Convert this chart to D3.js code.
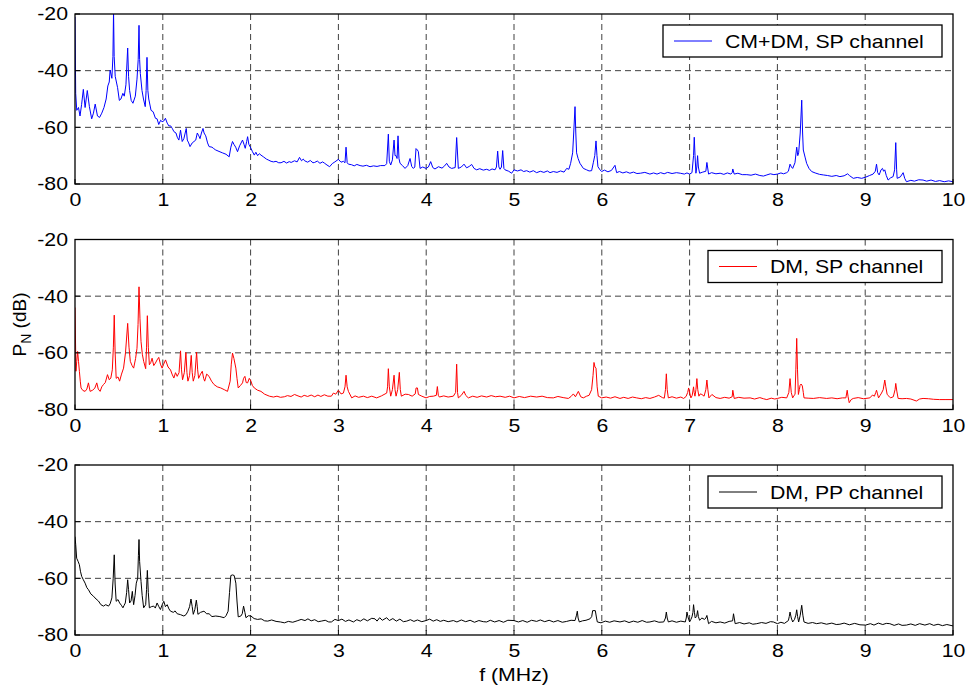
<!DOCTYPE html>
<html>
<head>
<meta charset="utf-8">
<script src="https://cdn.jsdelivr.net/npm/d3@7"></script>
<style>
  body { margin: 0; background: #fff; }
  text { font-family: Arial, "Liberation Sans", sans-serif; }
</style>
</head>
<body>
<script>

// ---- data: [f (MHz), P_N (dB)] ----
var cmdmSP = [[0,-21],[0.008,-48],[0.02,-54],[0.04,-53],[0.057,-56],[0.075,-52],[0.095,-46.6],[0.115,-53],[0.14,-47],[0.164,-52.7],[0.19,-57],[0.21,-55],[0.23,-51.8],[0.256,-56],[0.28,-56.5],[0.305,-55],[0.33,-53],[0.355,-50],[0.374,-45.4],[0.39,-44],[0.40,-39.8],[0.42,-42.7],[0.432,-35],[0.439,-19],[0.446,-35],[0.458,-42],[0.485,-46],[0.505,-50.5],[0.523,-50],[0.545,-48],[0.561,-49],[0.58,-45],[0.60,-32],[0.61,-42],[0.622,-47],[0.64,-50.5],[0.66,-51.5],[0.687,-49],[0.706,-43],[0.72,-36],[0.729,-24],[0.736,-36],[0.744,-41],[0.763,-47],[0.78,-50],[0.80,-52.7],[0.81,-47],[0.82,-35.3],[0.83,-47],[0.84,-50],[0.866,-54],[0.89,-54.5],[0.916,-56.8],[0.935,-57],[0.954,-59],[0.975,-57.5],[0.992,-58],[1.01,-57.8],[1.03,-56.8],[1.05,-58.5],[1.069,-59.5],[1.09,-59.5],[1.11,-60.5],[1.126,-61.5],[1.15,-62],[1.165,-63.5],[1.183,-64.5],[1.202,-61],[1.221,-65],[1.24,-64],[1.267,-60.4],[1.279,-64.5],[1.295,-65.5],[1.31,-66.8],[1.335,-65.5],[1.355,-65],[1.375,-64.5],[1.393,-62],[1.41,-63],[1.424,-64],[1.44,-62],[1.458,-60.4],[1.47,-62],[1.489,-63],[1.51,-65.5],[1.527,-66.8],[1.56,-67],[1.58,-67.5],[1.603,-68],[1.64,-68.5],[1.679,-69],[1.72,-69.5],[1.756,-70.4],[1.775,-67],[1.794,-65],[1.81,-66],[1.83,-67],[1.851,-68.6],[1.875,-66.5],[1.908,-64.5],[1.925,-66],[1.939,-67.4],[1.955,-65],[1.966,-63.3],[1.98,-66],[2.004,-67.4],[2.02,-68.5],[2.042,-69.8],[2.06,-68.8],[2.08,-70],[2.1,-69.3],[2.118,-69.8],[2.15,-70.5],[2.18,-71.2],[2.2,-71.5],[2.233,-72],[2.26,-72.2],[2.29,-72],[2.32,-72.5],[2.347,-72.5],[2.38,-72],[2.41,-72.6],[2.44,-72.1],[2.462,-72.4],[2.5,-71.8],[2.53,-72.2],[2.557,-70.6],[2.58,-71.8],[2.6,-71.2],[2.615,-71.8],[2.65,-72.3],[2.68,-71.7],[2.71,-72.5],[2.729,-72.4],[2.76,-71.9],[2.79,-72.7],[2.82,-72.2],[2.844,-72.7],[2.87,-73.3],[2.9,-73.9],[2.93,-72.8],[2.96,-72.2],[3.0,-71.3],[3.03,-72.3],[3.057,-72],[3.075,-72.5],[3.087,-67],[3.1,-72.5],[3.114,-73],[3.15,-73.2],[3.18,-73.6],[3.21,-73.1],[3.247,-73.5],[3.28,-73.7],[3.32,-73.4],[3.36,-73.9],[3.4,-73.6],[3.44,-73.8],[3.48,-73.5],[3.53,-73.5],[3.55,-72.8],[3.569,-62.4],[3.58,-72],[3.596,-73.3],[3.615,-71.5],[3.634,-64.5],[3.645,-70],[3.657,-70],[3.668,-71],[3.679,-63],[3.69,-71],[3.702,-72.7],[3.73,-73.5],[3.759,-74.5],[3.79,-73.5],[3.816,-71],[3.835,-73.8],[3.854,-74.5],[3.87,-74],[3.884,-67.5],[3.9,-68],[3.911,-68.6],[3.93,-74.5],[3.96,-74],[3.998,-74.5],[4.025,-74],[4.051,-72.1],[4.075,-74.2],[4.10,-74.7],[4.14,-73.9],[4.18,-74.4],[4.21,-73.6],[4.233,-72.7],[4.26,-74],[4.29,-74.5],[4.33,-74.2],[4.347,-63.6],[4.366,-74.5],[4.4,-74],[4.431,-73],[4.46,-74.3],[4.49,-73.8],[4.518,-73.1],[4.545,-74.5],[4.575,-75],[4.61,-74.6],[4.65,-75.1],[4.689,-74.8],[4.72,-75.2],[4.75,-74.7],[4.784,-75],[4.8,-74],[4.814,-68.4],[4.828,-74],[4.841,-74.8],[4.857,-74],[4.871,-68.2],[4.885,-74.5],[4.898,-75],[4.94,-75.5],[4.973,-76.2],[5.0,-75],[5.04,-75.4],[5.08,-75],[5.11,-75.6],[5.144,-75.3],[5.18,-75.8],[5.22,-75.3],[5.258,-76],[5.3,-75.5],[5.34,-75.9],[5.38,-75.4],[5.41,-76],[5.448,-75.6],[5.49,-75.9],[5.53,-75.4],[5.57,-75.8],[5.60,-74.5],[5.625,-74.8],[5.645,-72.7],[5.668,-69],[5.68,-62],[5.695,-52.7],[5.704,-62],[5.713,-69],[5.73,-71],[5.751,-72.7],[5.79,-74.5],[5.827,-75],[5.855,-75.4],[5.884,-75.3],[5.903,-72.5],[5.92,-70],[5.934,-64.8],[5.945,-70],[5.956,-73.9],[5.98,-75],[5.998,-75.6],[6.03,-75.1],[6.07,-75.7],[6.11,-75.2],[6.15,-73.4],[6.169,-76],[6.2,-75.6],[6.24,-76.1],[6.28,-75.7],[6.32,-76.2],[6.36,-75.8],[6.4,-76.3],[6.44,-76.2],[6.49,-75.9],[6.548,-76.5],[6.59,-76.1],[6.629,-76.5],[6.67,-76],[6.71,-76.4],[6.75,-75.9],[6.8,-76.3],[6.85,-76],[6.894,-76.2],[6.94,-76.5],[6.97,-76.1],[7.0,-76.5],[7.027,-76],[7.045,-70],[7.053,-63.5],[7.062,-70],[7.072,-76.2],[7.082,-74],[7.091,-70],[7.1,-74],[7.114,-76.2],[7.15,-75.8],[7.185,-75.5],[7.197,-72.4],[7.216,-76.5],[7.25,-76],[7.3,-76.4],[7.348,-76.2],[7.39,-76.6],[7.43,-76.1],[7.47,-76.5],[7.485,-76],[7.492,-74.7],[7.508,-76.5],[7.55,-76.2],[7.6,-76.7],[7.652,-76.7],[7.7,-76.9],[7.75,-76.5],[7.8,-77],[7.841,-77.2],[7.88,-76.8],[7.92,-76.4],[7.96,-76.7],[8.0,-76.5],[8.04,-76.1],[8.07,-76.4],[8.106,-76],[8.125,-75.5],[8.144,-73],[8.16,-74],[8.174,-74.5],[8.2,-72.5],[8.22,-67],[8.232,-70],[8.242,-69],[8.26,-62],[8.277,-50.4],[8.287,-62],[8.295,-68],[8.315,-70.5],[8.333,-72.7],[8.36,-74.5],[8.39,-75.6],[8.43,-76.1],[8.48,-76.6],[8.523,-76.8],[8.57,-77],[8.62,-77.3],[8.67,-77],[8.712,-77.4],[8.76,-77.1],[8.8,-76.4],[8.82,-77],[8.864,-78],[8.91,-77.7],[8.96,-78],[9.004,-77.6],[9.05,-77],[9.09,-76.5],[9.115,-75.5],[9.129,-73],[9.142,-76],[9.159,-76.8],[9.18,-75],[9.197,-74.5],[9.21,-75.5],[9.223,-75],[9.24,-77],[9.261,-78.6],[9.29,-77.8],[9.318,-77.4],[9.335,-75],[9.348,-65.4],[9.358,-75],[9.364,-78],[9.4,-77.5],[9.432,-76],[9.45,-78],[9.47,-79.2],[9.52,-78.7],[9.56,-79],[9.61,-78.5],[9.659,-78.6],[9.7,-79],[9.75,-78.6],[9.8,-79.1],[9.848,-78.8],[9.9,-79.2],[9.95,-78.9],[10,-79.2]];

var dmSP = [[0,-44],[0.011,-66.5],[0.02,-63],[0.03,-59.5],[0.04,-63],[0.05,-66.5],[0.06,-70],[0.069,-72.4],[0.09,-73.3],[0.115,-73.6],[0.135,-72.8],[0.153,-70.6],[0.172,-73.6],[0.2,-73.2],[0.225,-72.5],[0.248,-70.6],[0.265,-72.8],[0.286,-73.6],[0.305,-72],[0.324,-71.2],[0.345,-70.5],[0.37,-67.7],[0.39,-69.5],[0.408,-68.9],[0.425,-66],[0.437,-58],[0.447,-46.7],[0.457,-60],[0.469,-69],[0.49,-68.5],[0.508,-70],[0.53,-67.5],[0.553,-65.4],[0.575,-60],[0.60,-49.6],[0.615,-58],[0.63,-63],[0.65,-64.5],[0.668,-65.4],[0.69,-62],[0.706,-58.4],[0.718,-50],[0.729,-36.7],[0.74,-48],[0.752,-56],[0.767,-60.5],[0.782,-63],[0.805,-65.6],[0.815,-58],[0.824,-46.9],[0.835,-58],[0.847,-64.2],[0.862,-63.5],[0.878,-61.9],[0.897,-64.5],[0.916,-63.6],[0.935,-62.5],[0.954,-61.6],[0.973,-64],[0.992,-65.4],[1.01,-64],[1.031,-62.5],[1.06,-65],[1.088,-66],[1.105,-67.5],[1.126,-68.9],[1.145,-67],[1.164,-68.3],[1.185,-67],[1.202,-59.3],[1.213,-66],[1.225,-69.5],[1.245,-67],[1.263,-59.9],[1.275,-67],[1.286,-70],[1.305,-68],[1.324,-60.9],[1.335,-67],[1.347,-70],[1.365,-68],[1.385,-59.8],[1.397,-66],[1.408,-69],[1.43,-67.5],[1.45,-66.5],[1.465,-69],[1.477,-70],[1.5,-67.5],[1.527,-68.3],[1.555,-70],[1.584,-71.2],[1.62,-72],[1.66,-72.4],[1.7,-73],[1.737,-73.6],[1.767,-70],[1.78,-64],[1.794,-60.1],[1.81,-62],[1.832,-65.4],[1.845,-69],[1.859,-72.4],[1.885,-71.5],[1.908,-70.6],[1.92,-69],[1.935,-68.3],[1.95,-70.5],[1.966,-70.6],[1.985,-69],[2.004,-70],[2.02,-71.5],[2.042,-72.4],[2.08,-73.2],[2.118,-73.6],[2.16,-74.6],[2.214,-75.3],[2.26,-75.6],[2.3,-75.3],[2.34,-75.7],[2.385,-75.5],[2.42,-75.1],[2.46,-75.4],[2.50,-74.7],[2.54,-75.2],[2.576,-75.6],[2.61,-75],[2.65,-75.4],[2.69,-74.9],[2.73,-75.5],[2.767,-74.9],[2.8,-75.4],[2.84,-74.8],[2.88,-75.3],[2.92,-75.3],[2.943,-74.2],[2.97,-74.6],[3.0,-73.2],[3.03,-74.5],[3.057,-74.2],[3.075,-72],[3.087,-67.9],[3.1,-72],[3.114,-73.6],[3.152,-75.9],[3.19,-75.2],[3.23,-75.7],[3.285,-75.3],[3.33,-75.8],[3.38,-75.3],[3.436,-75.9],[3.49,-75.2],[3.55,-74.2],[3.56,-72],[3.569,-65.6],[3.58,-72],[3.596,-75.3],[3.615,-73],[3.634,-67.9],[3.645,-73],[3.657,-75.3],[3.675,-73],[3.694,-66.9],[3.705,-73],[3.717,-75.3],[3.76,-74.6],[3.797,-74.7],[3.84,-75.3],[3.875,-74.5],[3.885,-72.4],[3.9,-72.4],[3.911,-74.7],[3.95,-75.3],[3.998,-75.9],[4.04,-75.4],[4.082,-75.3],[4.115,-75],[4.127,-71.9],[4.138,-75],[4.15,-75.6],[4.2,-75.2],[4.25,-75.6],[4.309,-75.3],[4.335,-74],[4.347,-64],[4.357,-74],[4.366,-75.9],[4.4,-75],[4.431,-73.6],[4.45,-75],[4.48,-75.9],[4.53,-75.3],[4.58,-75.7],[4.63,-75.2],[4.689,-75.6],[4.74,-75.1],[4.79,-75.5],[4.841,-75.3],[4.9,-75.7],[4.95,-75.3],[5.0,-75.9],[5.06,-75.4],[5.12,-75.8],[5.19,-75.3],[5.258,-75.6],[5.32,-75.3],[5.38,-75.8],[5.448,-75.9],[5.5,-75.4],[5.56,-75.8],[5.619,-76.1],[5.65,-75.4],[5.676,-74.5],[5.7,-75.5],[5.733,-73.6],[5.76,-75.5],[5.789,-75.9],[5.827,-75.3],[5.855,-75],[5.884,-73],[5.9,-68],[5.911,-63.4],[5.922,-65],[5.934,-65.4],[5.947,-72],[5.96,-75.3],[5.998,-75.9],[6.05,-75.6],[6.1,-76],[6.15,-75.5],[6.207,-76.1],[6.25,-75.7],[6.3,-76.1],[6.35,-75.6],[6.397,-75.9],[6.45,-76.2],[6.5,-75.8],[6.548,-76.1],[6.6,-75.6],[6.648,-75],[6.69,-75.8],[6.712,-76],[6.725,-73],[6.735,-67.4],[6.745,-73],[6.758,-75.9],[6.8,-75.5],[6.85,-76],[6.9,-75.6],[6.932,-76.1],[6.96,-75.4],[6.978,-74],[6.989,-72.4],[7.0,-74],[7.015,-75.9],[7.03,-75],[7.045,-72],[7.052,-74],[7.061,-75.3],[7.072,-73],[7.083,-69.1],[7.093,-73],[7.106,-75.3],[7.12,-74.5],[7.14,-74.7],[7.165,-75.3],[7.185,-73],[7.197,-69.6],[7.208,-73],[7.22,-75.9],[7.254,-74.7],[7.3,-75.8],[7.348,-76.1],[7.4,-75.7],[7.45,-76],[7.485,-75.5],[7.492,-73.2],[7.508,-76.1],[7.56,-75.7],[7.62,-76],[7.689,-75.9],[7.74,-76.3],[7.8,-75.8],[7.84,-76.2],[7.879,-76.5],[7.93,-76],[7.97,-76.3],[8.0,-76.1],[8.05,-75.7],[8.106,-75.9],[8.13,-74],[8.144,-69.1],[8.158,-74],[8.174,-75.9],[8.19,-75],[8.201,-74.7],[8.21,-66],[8.22,-54.9],[8.229,-66],[8.239,-74.7],[8.25,-73],[8.258,-71.5],[8.27,-71],[8.284,-71.7],[8.295,-74],[8.303,-75.9],[8.35,-76],[8.409,-76.1],[8.48,-75.8],[8.561,-76.1],[8.62,-75.9],[8.68,-76.2],[8.74,-75.9],[8.78,-75.9],[8.795,-73.2],[8.805,-75.5],[8.818,-77.6],[8.84,-76.5],[8.864,-76.1],[8.92,-75.8],[8.98,-76.2],[9.053,-75.9],[9.083,-74.9],[9.105,-75.3],[9.12,-74],[9.129,-73.2],[9.14,-74.5],[9.152,-75.9],[9.17,-75],[9.186,-74.2],[9.205,-73],[9.223,-69.6],[9.235,-72],[9.25,-74.7],[9.27,-75.3],[9.288,-75.9],[9.32,-75.5],[9.34,-73],[9.348,-70.8],[9.36,-73.5],[9.375,-76.1],[9.42,-76.2],[9.47,-76.1],[9.52,-76.3],[9.583,-77],[9.62,-76.3],[9.659,-76.1],[9.72,-76.2],[9.78,-76.4],[9.848,-76.5],[9.92,-76.5],[10,-76.5]];

var dmPP = [[0,-45.3],[0.008,-48],[0.019,-52.9],[0.035,-54],[0.05,-55.2],[0.062,-57.5],[0.076,-59.3],[0.095,-60.5],[0.115,-61.7],[0.135,-63.3],[0.153,-64],[0.18,-65.5],[0.21,-66.3],[0.24,-67.3],[0.267,-68],[0.295,-69.3],[0.324,-69.8],[0.35,-69.3],[0.382,-69.8],[0.4,-69],[0.42,-66.9],[0.435,-60],[0.447,-51.7],[0.457,-62],[0.469,-68.1],[0.49,-67.5],[0.508,-68.7],[0.528,-69.5],[0.546,-70.4],[0.56,-69.5],[0.573,-68.7],[0.588,-65],[0.60,-60.5],[0.61,-64],[0.622,-68.7],[0.638,-68],[0.653,-64.6],[0.66,-67],[0.668,-69.3],[0.684,-66],[0.698,-61.7],[0.714,-60],[0.722,-52],[0.729,-46.3],[0.736,-54],[0.752,-61.1],[0.765,-66],[0.782,-70.4],[0.805,-69.3],[0.815,-64],[0.824,-57.2],[0.835,-65],[0.847,-70.4],[0.87,-70],[0.897,-69.8],[0.915,-70.5],[0.935,-68.7],[0.955,-70],[0.973,-71],[0.99,-69.5],[1.011,-68.1],[1.03,-70],[1.05,-69.3],[1.07,-70.8],[1.088,-71.6],[1.12,-72],[1.14,-71.5],[1.164,-72.5],[1.2,-72.8],[1.24,-73.3],[1.265,-72.8],[1.286,-71.6],[1.305,-70],[1.321,-67.3],[1.335,-70],[1.347,-72.7],[1.365,-71],[1.382,-67.7],[1.392,-70],[1.40,-72.7],[1.43,-72],[1.469,-71.6],[1.5,-72.5],[1.527,-72.5],[1.56,-73.5],[1.603,-73.3],[1.65,-73.5],[1.698,-73.9],[1.72,-73.2],[1.744,-71.6],[1.76,-65],[1.775,-59],[1.795,-58.8],[1.813,-59],[1.832,-61.7],[1.845,-68],[1.859,-73.6],[1.889,-73.3],[1.905,-72.5],[1.92,-69.8],[1.935,-72],[1.947,-73.9],[1.975,-73.2],[2.004,-73.3],[2.04,-74.2],[2.08,-74.5],[2.12,-74.3],[2.16,-75],[2.195,-75.1],[2.24,-74.7],[2.29,-75.2],[2.34,-75.4],[2.385,-75.7],[2.43,-75.2],[2.48,-75.5],[2.53,-75],[2.576,-74.5],[2.62,-74.9],[2.653,-74.3],[2.69,-75],[2.73,-74.6],[2.77,-75.3],[2.805,-75.1],[2.85,-74.8],[2.89,-75.4],[2.92,-75.4],[2.96,-74.5],[3.0,-74.9],[3.04,-74.4],[3.08,-75.2],[3.12,-74.7],[3.171,-75.4],[3.21,-74.6],[3.25,-75.1],[3.29,-74.3],[3.33,-75],[3.38,-74.1],[3.417,-74.3],[3.44,-75.1],[3.47,-73.9],[3.5,-74.8],[3.55,-73.9],[3.58,-74.9],[3.62,-74.2],[3.66,-75.1],[3.7,-74.4],[3.74,-75.3],[3.778,-75.1],[3.82,-74.6],[3.86,-75.2],[3.9,-74.7],[3.95,-75.3],[3.998,-74.9],[4.04,-74.4],[4.08,-75.1],[4.12,-74.6],[4.16,-75.2],[4.2,-74.8],[4.25,-75.3],[4.309,-74.9],[4.35,-75.4],[4.4,-74.7],[4.45,-75.3],[4.5,-74.8],[4.55,-75.5],[4.6,-74.9],[4.65,-75.3],[4.689,-75.4],[4.73,-74.8],[4.78,-75.4],[4.83,-74.9],[4.88,-75.5],[4.93,-74.8],[5.0,-74.9],[5.05,-75.4],[5.1,-74.9],[5.15,-75.5],[5.2,-74.8],[5.258,-75.2],[5.3,-74.7],[5.35,-75.3],[5.4,-74.8],[5.45,-75.4],[5.5,-74.9],[5.55,-75.5],[5.60,-75.2],[5.65,-74.8],[5.695,-74.9],[5.712,-73],[5.721,-71.6],[5.73,-74],[5.744,-75.4],[5.78,-75],[5.82,-74.8],[5.865,-74.3],[5.885,-73.5],[5.896,-71.4],[5.926,-71.4],[5.94,-74],[5.949,-75.4],[5.991,-75.7],[6.04,-75.1],[6.09,-75.5],[6.14,-75],[6.207,-75.4],[6.26,-75],[6.31,-75.6],[6.36,-75.1],[6.41,-75.5],[6.46,-74.9],[6.51,-75.5],[6.548,-75.4],[6.6,-75],[6.65,-75.5],[6.705,-75.4],[6.725,-74],[6.735,-71.9],[6.745,-74],[6.758,-75.4],[6.8,-75],[6.85,-75.5],[6.9,-75.1],[6.951,-75.4],[6.962,-74],[6.97,-71.9],[6.985,-74],[7.0,-75.4],[7.015,-74.5],[7.027,-73.6],[7.038,-72],[7.045,-69.3],[7.055,-72],[7.064,-74],[7.08,-73.5],[7.091,-71.4],[7.1,-73.5],[7.114,-74.8],[7.14,-74],[7.17,-74.5],[7.185,-74],[7.197,-73.1],[7.216,-76],[7.25,-75.2],[7.3,-75.7],[7.348,-75.4],[7.4,-75.8],[7.45,-75.2],[7.49,-75],[7.50,-72.5],[7.519,-76],[7.57,-75.6],[7.62,-76.1],[7.68,-75.7],[7.72,-76.2],[7.765,-76],[7.82,-75.6],[7.87,-75.9],[7.92,-75.3],[7.955,-75.4],[8.0,-76],[8.04,-75.5],[8.08,-75.9],[8.125,-74.9],[8.135,-73.5],[8.144,-71.9],[8.158,-74],[8.174,-75.4],[8.195,-74.5],[8.21,-73],[8.22,-71.1],[8.23,-73.5],[8.242,-75.4],[8.26,-73],[8.277,-69.5],[8.29,-73],[8.303,-75.4],[8.35,-75.9],[8.4,-75.6],[8.447,-76],[8.5,-75.7],[8.56,-76.2],[8.62,-75.8],[8.67,-76.3],[8.712,-76.2],[8.76,-75.8],[8.82,-76.4],[8.88,-75.9],[8.94,-76.4],[9.004,-76.5],[9.06,-76],[9.1,-76.5],[9.15,-75.8],[9.2,-76.3],[9.24,-75.9],[9.28,-76],[9.33,-76.6],[9.38,-76.1],[9.42,-76.6],[9.47,-76.5],[9.52,-76.1],[9.57,-76.6],[9.62,-76],[9.68,-76.5],[9.735,-76],[9.78,-76.6],[9.83,-76.2],[9.88,-76.7],[9.93,-76.3],[10,-76.8]];

var xTicks = [0,1,2,3,4,5,6,7,8,9,10];
var yTicks = [-20,-40,-60,-80];
var seriesNames = ["CM+DM, SP channel", "DM, SP channel", "DM, PP channel"];
var seriesColors = ["#0000ff", "#ff0000", "#000000"];
var series = [cmdmSP, dmSP, dmPP];

// ---- layout ----
var W = 968, H = 695;
var left = 75, right = 953, panelH = 170;
var panelTops = [14, 239.5, 465];
var legendX = [663, 708, 708], legendW = [279, 234, 234];
var fontPx = 18.5;
var stretch = 1.15;   // the original picture is a bit wider than tall

var svg = d3.select("body").append("svg")
    .attr("width", W)
    .attr("height", H);

var x = d3.scaleLinear().domain([0, 10]).range([left, right]);

panelTops.forEach(function(top, i) {
  var y = d3.scaleLinear().domain([-80, -20]).range([top + panelH, top]);
  var g = svg.append("g");

  // clip to the axes box
  svg.append("clipPath").attr("id", "clip" + i)
    .append("rect")
      .attr("x", left).attr("y", top)
      .attr("width", right - left).attr("height", panelH);

  // dashed grid
  g.selectAll(".vgrid").data(xTicks.slice(1, -1)).enter().append("line")
      .attr("x1", function(d) { return x(d); })
      .attr("x2", function(d) { return x(d); })
      .attr("y1", top).attr("y2", top + panelH)
      .attr("stroke", "#404040").attr("stroke-width", 1)
      .attr("stroke-dasharray", "6,4");
  g.selectAll(".hgrid").data(yTicks.slice(1, -1)).enter().append("line")
      .attr("x1", left).attr("x2", right)
      .attr("y1", function(d) { return y(d); })
      .attr("y2", function(d) { return y(d); })
      .attr("stroke", "#404040").attr("stroke-width", 1)
      .attr("stroke-dasharray", "6,4");

  // the spectrum
  var line = d3.line()
      .x(function(d) { return x(d[0]); })
      .y(function(d) { return y(d[1]); });
  g.append("path")
      .datum(series[i])
      .attr("clip-path", "url(#clip" + i + ")")
      .attr("fill", "none")
      .attr("stroke", seriesColors[i])
      .attr("stroke-width", 1)
      .attr("stroke-linejoin", "round")
      .attr("d", line);

  // axes (labels only, box drawn separately); plain hyphen for minus like matlab
  var ya = g.append("g")
      .attr("transform", "translate(" + left + ",0)")
      .call(d3.axisLeft(y).tickValues(yTicks).tickFormat(String).tickSize(0).tickPadding(7));
  var xa = g.append("g")
      .attr("transform", "translate(0," + (top + panelH) + ")")
      .call(d3.axisBottom(x).tickValues(xTicks).tickFormat(String).tickSize(0).tickPadding(9));
  [ya, xa].forEach(function(a) {
    a.select(".domain").remove();
    a.selectAll("text")
      .attr("class", "wide")
      .attr("fill", "#000")
      .style("font-size", fontPx + "px")
      .style("font-family", "Arial, 'Liberation Sans', sans-serif");
  });

  // inner ticks like matlab
  g.selectAll(".xt").data(xTicks).enter().append("line")
      .attr("x1", function(d) { return x(d); }).attr("x2", function(d) { return x(d); })
      .attr("y1", top + panelH).attr("y2", top + panelH - 5)
      .attr("stroke", "#000");
  g.selectAll(".yt").data(yTicks).enter().append("line")
      .attr("x1", left).attr("x2", left + 5)
      .attr("y1", function(d) { return y(d); }).attr("y2", function(d) { return y(d); })
      .attr("stroke", "#000");

  // axes box
  g.append("rect")
      .attr("x", left).attr("y", top)
      .attr("width", right - left).attr("height", panelH)
      .attr("fill", "none").attr("stroke", "#000").attr("stroke-width", 1.3);

  // legend
  var lg = g.append("g").attr("transform", "translate(" + legendX[i] + "," + (top + 11) + ")");
  lg.append("rect")
      .attr("width", legendW[i]).attr("height", 32)
      .attr("fill", "#fff").attr("stroke", "#000").attr("stroke-width", 1.3);
  lg.append("line")
      .attr("x1", 11).attr("x2", 49).attr("y1", 16).attr("y2", 16)
      .attr("stroke", seriesColors[i]).attr("stroke-width", 1);
  lg.append("text")
      .attr("class", "wide")
      .attr("x", 62).attr("y", 22.5)
      .style("font-size", fontPx + "px")
      .text(seriesNames[i]);
});

// axis titles
svg.append("text")
    .attr("class", "wide")
    .attr("x", (left + right) / 2)
    .attr("y", 681)
    .attr("text-anchor", "middle")
    .style("font-size", fontPx + "px")
    .text("f (MHz)");

var yl = svg.append("text")
    .attr("transform", "translate(26," + (panelTops[1] + panelH / 2) + ") rotate(-90)")
    .attr("text-anchor", "middle")
    .style("font-size", "19px");
yl.append("tspan").text("P");
yl.append("tspan").attr("dy", 5).style("font-size", "14px").text("N");
yl.append("tspan").attr("dy", -5).text(" (dB)");

// widen horizontal texts a little to match the original's proportions
svg.selectAll("text.wide").each(function() {
  var w = this.getComputedTextLength();
  d3.select(this)
    .attr("textLength", w * stretch)
    .attr("lengthAdjust", "spacingAndGlyphs");
});

</script>
</body>
</html>
